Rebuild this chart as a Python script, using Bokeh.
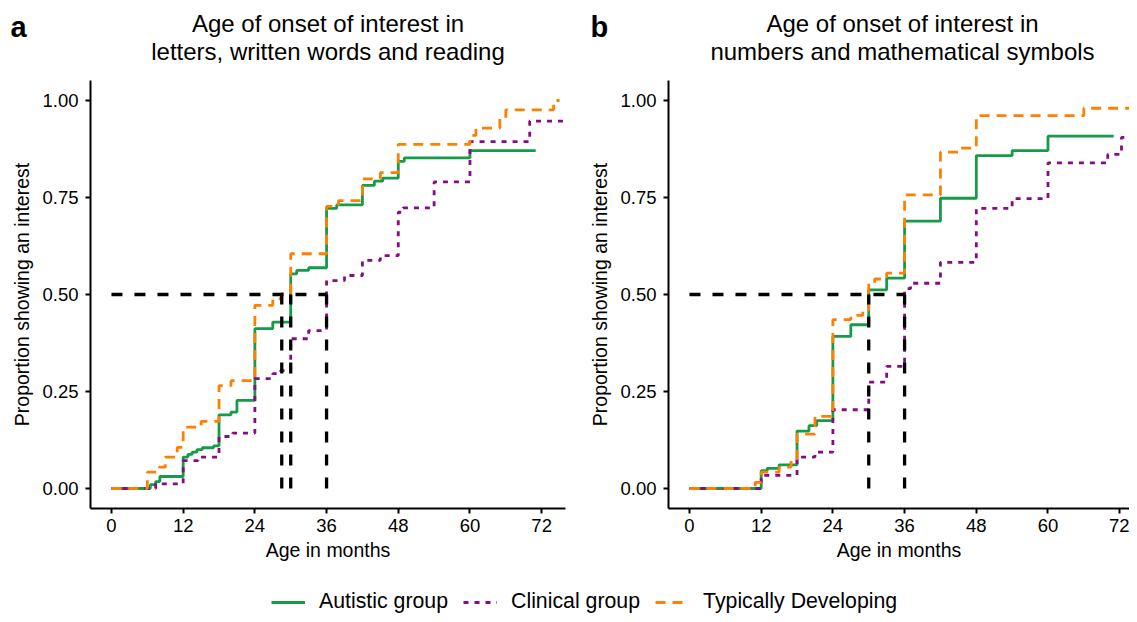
from bokeh.plotting import figure
from bokeh.models import Range1d, FixedTicker, Label, Legend, LegendItem, NumeralTickFormatter
from bokeh.layouts import column, row
from bokeh.embed import file_html
from bokeh.resources import INLINE

# ---------------- data ----------------
x_ticks = [0, 12, 24, 36, 48, 60, 72]
y_ticks = [0, 0.25, 0.5, 0.75, 1.0]
median_level = 0.5

# Panel a: letters, written words and reading
a_aut_x = [0, 6.5, 7.4, 8.1, 12, 12.8, 13.5, 14.3, 15.2, 17.1, 18, 20, 21, 24, 27, 30, 31, 33, 36, 37.7, 42, 44, 45.4, 48, 49, 60, 71]
a_aut_y = [0, 0.010, 0.018, 0.031, 0.081, 0.088, 0.094, 0.100, 0.105, 0.110, 0.190, 0.197, 0.227, 0.412, 0.429, 0.553, 0.562, 0.569, 0.722, 0.731, 0.781, 0.792, 0.800, 0.843, 0.852, 0.871, 0.871]
a_cli_x = [0, 7.4, 12, 14.5, 18, 20.3, 24, 27, 28.3, 30, 33, 36, 39, 42, 45, 48, 48.8, 54, 60, 70, 78]
a_cli_y = [0, 0.012, 0.072, 0.081, 0.134, 0.143, 0.283, 0.296, 0.304, 0.386, 0.407, 0.536, 0.549, 0.588, 0.600, 0.712, 0.723, 0.790, 0.894, 0.947, 0.947]
a_td_x = [0, 6, 8, 9, 11, 12, 15, 18, 20, 24, 27, 28.5, 30, 36, 38, 42, 45, 48, 60, 61, 65, 66, 74, 75]
a_td_y = [0, 0.042, 0.055, 0.081, 0.106, 0.158, 0.173, 0.265, 0.278, 0.472, 0.489, 0.502, 0.605, 0.727, 0.742, 0.798, 0.814, 0.887, 0.910, 0.929, 0.953, 0.976, 1.0, 1.0]
a_medians = [28.5, 30, 36]

# Panel b: numbers and mathematical symbols
b_aut_x = [0, 12, 13, 15, 18, 20, 21.3, 24, 27, 30, 33, 36, 42, 48, 54, 60, 71]
b_aut_y = [0, 0.046, 0.052, 0.061, 0.148, 0.162, 0.175, 0.392, 0.422, 0.512, 0.542, 0.689, 0.748, 0.858, 0.871, 0.908, 0.908]
b_cli_x = [0, 12, 18, 21, 24, 30, 33, 36, 37, 42, 48, 54, 60, 70, 72.3, 74.2, 76]
b_cli_y = [0, 0.034, 0.081, 0.094, 0.203, 0.274, 0.315, 0.515, 0.529, 0.583, 0.722, 0.747, 0.839, 0.861, 0.905, 0.927, 0.927]
b_td_x = [0, 11, 12, 15, 17, 18, 21, 24, 27, 29, 30, 31, 33, 36, 42, 45, 48, 66, 74, 76]
b_td_y = [0, 0.016, 0.042, 0.055, 0.072, 0.140, 0.186, 0.435, 0.446, 0.460, 0.529, 0.540, 0.555, 0.757, 0.867, 0.877, 0.961, 0.980, 0.998, 0.998]
b_medians = [30, 36]

series_names = ["Autistic group", "Clinical group", "Typically Developing"]
panel_letters = ["a", "b"]
title_line1 = ["Age of onset of interest in", "Age of onset of interest in"]
title_line2 = ["letters, written words and reading", "numbers and mathematical symbols"]

# ---------------- style ----------------
FONT = "Liberation Sans"
GREEN = "#169b48"
PURPLE = "#870a87"
ORANGE = "#ff8000"
COLORS = [GREEN, PURPLE, ORANGE]
DASHES = ["solid", "5 6", "10 7"]
LW = 2.8
TOP_H = 68


def make_panel(width, border_left, border_right, x_end, series, medians):
    p = figure(width=width, height=565 - TOP_H, output_backend="svg", toolbar_location=None,
               title=None,
               x_range=Range1d(-3.51, x_end), y_range=Range1d(-0.0515, 1.0515),
               min_border_left=border_left, min_border_right=border_right,
               min_border_top=80 - TOP_H, min_border_bottom=57)
    p.xgrid.visible = False
    p.ygrid.visible = False
    p.outline_line_color = None

    for ax in (p.xaxis[0], p.yaxis[0]):
        ax.axis_line_width = 2
        ax.axis_line_color = "black"
        ax.major_tick_line_width = 2
        ax.major_tick_line_color = "black"
        ax.major_tick_out = 5
        ax.major_tick_in = 0
        ax.minor_tick_line_color = None
        ax.major_label_text_font = FONT
        ax.major_label_text_font_size = "18.5px"
        ax.major_label_text_color = "black"
        ax.axis_label_text_font = FONT
        ax.axis_label_text_font_size = "19.5px"
        ax.axis_label_text_font_style = "normal"
        ax.axis_label_text_color = "black"
    p.xaxis.ticker = FixedTicker(ticks=x_ticks)
    p.yaxis.ticker = FixedTicker(ticks=y_ticks)
    p.yaxis.formatter = NumeralTickFormatter(format="0.00")
    p.xaxis.major_label_standoff = 5
    p.yaxis.major_label_standoff = 7
    p.xaxis.axis_label = "Age in months"
    p.yaxis.axis_label = "Proportion showing an interest"
    p.xaxis.axis_label_standoff = 4
    p.yaxis.axis_label_standoff = 6

    for i in range(3):
        xs, ys = series[i]
        p.step(xs, ys, mode="after", line_color=COLORS[i], line_width=LW, line_dash=DASHES[i])

    # median lines
    p.segment(x0=[0], y0=[median_level], x1=[max(medians)], y1=[median_level],
              line_color="black", line_width=3.3, line_dash="11 12")
    p.segment(x0=medians, y0=[0] * len(medians), x1=medians, y1=[median_level] * len(medians),
              line_color="black", line_width=3.3, line_dash="11 12")
    return p


pa = make_panel(586, 90, 21, 75.99,
                [(a_aut_x, a_aut_y), (a_cli_x, a_cli_y), (a_td_x, a_td_y)], a_medians)
pb = make_panel(543, 82, 0, 73.64,
                [(b_aut_x, b_aut_y), (b_cli_x, b_cli_y), (b_td_x, b_td_y)], b_medians)

# ---------------- header strip: panel letters and titles ----------------
top = figure(width=1129, height=TOP_H, output_backend="svg", toolbar_location=None,
             title=None, x_axis_type=None, y_axis_type=None,
             x_range=Range1d(0, 1129), y_range=Range1d(TOP_H, 0), min_border=0)
top.xgrid.visible = False
top.ygrid.visible = False
top.outline_line_color = None
letter_x = [10, 590]
title_cx = [327.5, 902]
for k in range(2):
    top.add_layout(Label(x=letter_x[k], y=26, text=panel_letters[k], text_font=FONT,
                         text_font_size="29px", text_font_style="bold",
                         text_baseline="alphabetic", text_color="black"))
    top.add_layout(Label(x=title_cx[k], y=23, text=title_line1[k], text_font=FONT,
                         text_font_size="24px", text_align="center",
                         text_baseline="alphabetic", text_color="black"))
    top.add_layout(Label(x=title_cx[k], y=51, text=title_line2[k], text_font=FONT,
                         text_font_size="24px", text_align="center",
                         text_baseline="alphabetic", text_color="black"))

# ---------------- legend strip ----------------
lf = figure(width=1129, height=49, output_backend="svg", toolbar_location=None,
            title=None, x_axis_type=None, y_axis_type=None,
            x_range=Range1d(0, 1), y_range=Range1d(0, 1), min_border=0)
lf.xgrid.visible = False
lf.ygrid.visible = False
lf.outline_line_color = None
rs = []
for i in range(3):
    rs.append(lf.line(x=[-5, -4], y=[-5, -4], line_color=COLORS[i], line_width=LW,
                      line_dash=DASHES[i]))
legend = Legend(items=[LegendItem(label=series_names[i], renderers=[rs[i]]) for i in range(3)],
                orientation="horizontal", location=(271, 0),
                glyph_width=34, glyph_height=20, label_height=20, label_standoff=14, spacing=15,
                padding=0, margin=0, label_text_font=FONT, label_text_font_size="21.3px",
                label_text_color="black",
                border_line_alpha=0, background_fill_alpha=0)
lf.add_layout(legend)

layout = column(top, row(pa, pb), lf)
open("out.html", "w").write(file_html(layout, INLINE))
